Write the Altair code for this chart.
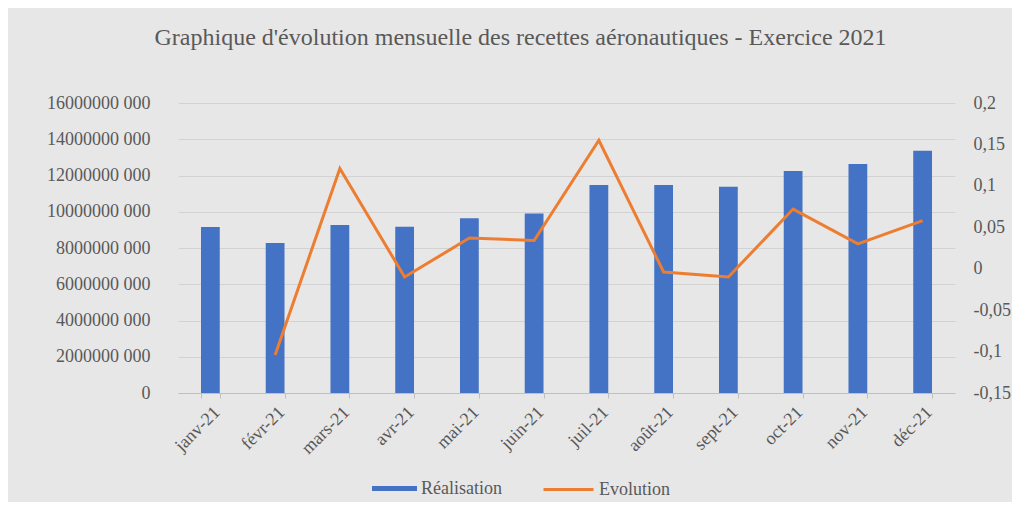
import altair as alt
import pandas as pd

mois = ["janv-21", "févr-21", "mars-21", "avr-21", "mai-21", "juin-21",
        "juil-21", "août-21", "sept-21", "oct-21", "nov-21", "déc-21"]
realisation = [9.16e9, 8.28e9, 9.27e9, 9.17e9, 9.64e9, 9.91e9,
               11.48e9, 11.48e9, 11.38e9, 12.25e9, 12.63e9, 13.37e9]
evolution = [None, -0.104, 0.121, -0.010, 0.037, 0.034,
             0.155, -0.004, -0.010, 0.072, 0.030, 0.058]
left_ticks = [0, 2e9, 4e9, 6e9, 8e9, 10e9, 12e9, 14e9, 16e9]
right_ticks = [-0.15, -0.1, -0.05, 0, 0.05, 0.1, 0.15, 0.2]

df = pd.DataFrame({"mois": mois, "realisation": realisation,
                   "evolution": evolution})
df["s1"] = "Réalisation"
df["s2"] = "Evolution"

FONT = "Liberation Serif"
GREY = "#595959"

x_enc = alt.X(
    "mois:N", sort=mois, title=None,
    scale=alt.Scale(paddingInner=0.71, paddingOuter=0.355),
    axis=alt.Axis(labelAngle=-45, labelFont=FONT, labelFontSize=18,
                  labelColor=GREY, domainColor="#bfbfbf", tickColor="#bfbfbf",
                  tickBand="extent", tickSize=5, grid=False, labelPadding=5),
)

bars = alt.Chart(df).mark_bar().encode(
    x=x_enc,
    y=alt.Y("realisation:Q", title=None,
            scale=alt.Scale(domain=[0, 16e9], nice=False),
            axis=alt.Axis(values=left_ticks, labelFont=FONT, labelFontSize=18,
                          labelColor=GREY, ticks=False, domain=False,
                          labelPadding=28, gridColor="#d2d2d2",
                          labelExpr="datum.value == 0 ? '0' : floor(datum.value / 1000) + ' 000'")),
    color=alt.Color("s1:N",
                    scale=alt.Scale(domain=["Réalisation"], range=["#4472C4"]),
                    legend=alt.Legend(title=None, orient="none", legendX=194, legendY=363,
                                      symbolType="M-1,-0.11H1V0.11H-1Z", symbolSize=2025,
                                      symbolStrokeWidth=0, labelFont=FONT, labelFontSize=18,
                                      labelColor=GREY, labelOffset=4)),
)

line = alt.Chart(df).mark_line(strokeWidth=3).encode(
    x=x_enc,
    y=alt.Y("evolution:Q", title=None,
            scale=alt.Scale(domain=[-0.15, 0.2], nice=False),
            axis=alt.Axis(orient="right", values=right_ticks, labelFont=FONT,
                          labelFontSize=18, labelColor=GREY, ticks=False,
                          domain=False, grid=False, labelPadding=18,
                          labelExpr="(datum.value < 0 ? '-' : '') + replace(format(abs(datum.value), '.2~f'), '.', ',')")),
    color=alt.Color("s2:N",
                    scale=alt.Scale(domain=["Evolution"], range=["#ED7D31"]),
                    legend=alt.Legend(title=None, orient="none", legendX=364, legendY=360,
                                      symbolType="stroke", symbolSize=2500,
                                      symbolStrokeWidth=3, labelFont=FONT, labelFontSize=18,
                                      labelColor=GREY, labelOffset=4)),
)

chart = alt.layer(bars, line).resolve_scale(
    y="independent", color="independent"
).properties(
    width=777, height=290,
    title=alt.TitleParams("Graphique  d'évolution  mensuelle des recettes aéronautiques - Exercice 2021",
                          font=FONT, fontSize=24, fontWeight="normal", color=GREY,
                          anchor="middle", dx=-46, offset=44),
    autosize=alt.AutoSizeParams(type="none"),
    padding={"left": 170, "top": 95, "right": 57, "bottom": 109},
    background="#e7e7e7",
).configure_view(stroke=None)

chart.save("out.html", embed_options={"renderer": "svg", "actions": False})
